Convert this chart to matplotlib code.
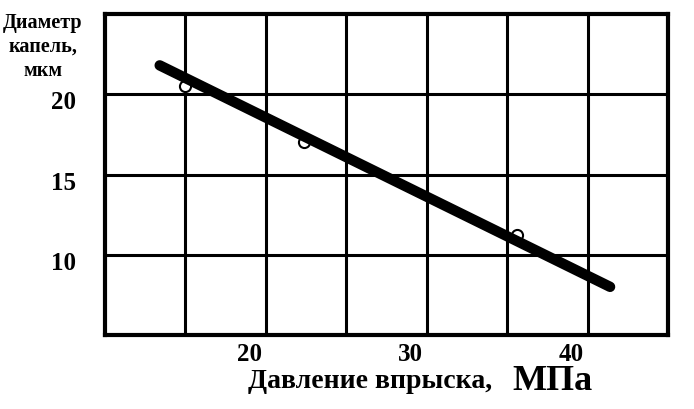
"""Droplet diameter vs injection pressure (scanned chart redraw)."""

import matplotlib
matplotlib.use("Agg")
import matplotlib.pyplot as plt  # noqa: E402
from matplotlib.transforms import ScaledTranslation  # noqa: E402

# Data.
line_x = [13.4, 41.4]          # MPa, ends of the fitted line
line_y = [21.8, 8.0]           # um
pts_x = [15.0, 22.4, 35.6]     # measured points (hollow, under the line)
pts_y = [20.5, 17.0, 11.2]

x_grid = [10, 15, 20, 25, 30, 35, 40, 45]
y_grid = [5, 10, 15, 20, 25]
x_ticks = [20, 30, 40]
y_ticks = [10, 15, 20]

plt.rcParams["font.family"] = ["Liberation Serif", "DejaVu Serif"]
plt.rcParams["font.weight"] = "bold"

fig = plt.figure(figsize=(6.94, 4.10), dpi=100)
ax = fig.add_axes([0.1513, 0.1805, 0.8112, 0.7829])

ax.set_xlim(10, 45)
ax.set_ylim(5, 25)

# thick scanned-looking grid
for gx in x_grid[1:-1]:
    ax.axvline(gx, color="black", lw=2.2, zorder=1)
for gy in y_grid[1:-1]:
    ax.axhline(gy, color="black", lw=2.2, zorder=1)
for sp in ax.spines.values():
    sp.set_linewidth(3.0)

ax.plot(pts_x, pts_y, "o", ms=8, mfc="white", mec="black", mew=1.5, zorder=2)
ax.plot(line_x, line_y, color="black", lw=7.5, solid_capstyle="round", zorder=3)

ax.set_xticks(x_ticks)
ax.set_yticks(y_ticks)
ax.tick_params(length=0, labelsize=18)
ax.tick_params(axis="x", pad=5)
ax.tick_params(axis="y", pad=21)
for lab in ax.get_xticklabels():
    lab.set_fontweight("bold")
    lab.set_ha("right")
    lab.set_transform(lab.get_transform() + ScaledTranslation(-0.04, 0, fig.dpi_scale_trans))
for lab in ax.get_yticklabels():
    lab.set_fontweight("bold")
    lab.set_transform(lab.get_transform() + ScaledTranslation(0, -0.05, fig.dpi_scale_trans))

fig.text(0.062, 0.968, "Диаметр\nкапель,\nмкм", ha="center", va="top",
         fontsize=14.5, fontweight="bold", linespacing=1.25)
fig.text(0.709, 0.054, "Давление впрыска,", ha="right", va="baseline",
         fontsize=20, fontweight="bold")
fig.text(0.739, 0.049, "МПа", ha="left", va="baseline",
         fontsize=26, fontweight="bold")

fig.savefig("out.png", dpi=100)
